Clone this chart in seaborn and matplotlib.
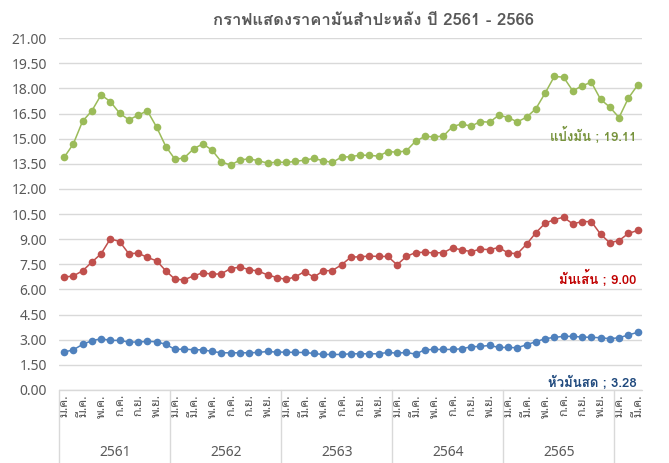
import matplotlib
matplotlib.use('Agg')
import matplotlib.pyplot as plt
import seaborn as sns
import pandas as pd

# ราคามันสำปะหลัง (บาท/กก.) รายเดือน ม.ค. 2561 - มี.ค. 2566
years = ['2561', '2562', '2563', '2564', '2565', '2566']
months = ['ม.ค.', 'ก.พ.', 'มี.ค.', 'เม.ย.', 'พ.ค.', 'มิ.ย.',
          'ก.ค.', 'ส.ค.', 'ก.ย.', 'ต.ค.', 'พ.ย.', 'ธ.ค.']

flour = [13.88, 14.69, 16.04, 16.66, 17.61, 17.21, 16.52, 16.12, 16.40, 16.66, 15.69, 14.53,
         13.76, 13.86, 14.39, 14.69, 14.31, 13.62, 13.42, 13.72, 13.80, 13.68, 13.54, 13.60,
         13.58, 13.64, 13.72, 13.82, 13.68, 13.58, 13.90, 13.92, 14.02, 14.00, 13.96, 14.23,
         14.19, 14.27, 14.85, 15.13, 15.11, 15.15, 15.72, 15.88, 15.74, 16.02, 15.98, 16.40,
         16.26, 16.00, 16.28, 16.78, 17.71, 18.71, 18.67, 17.85, 18.15, 18.37, 17.35, 16.88,
         16.26, 17.41, 18.19]
chips = [6.73, 6.81, 7.11, 7.63, 8.13, 9.02, 8.86, 8.13, 8.17, 7.91, 7.71, 7.11,
         6.60, 6.58, 6.81, 6.99, 6.91, 6.93, 7.25, 7.33, 7.19, 7.09, 6.87, 6.71,
         6.60, 6.75, 7.07, 6.73, 7.11, 7.13, 7.47, 7.93, 7.95, 7.99, 7.97, 7.97,
         7.47, 7.97, 8.20, 8.22, 8.18, 8.20, 8.48, 8.36, 8.26, 8.40, 8.38, 8.50,
         8.18, 8.13, 8.70, 9.38, 9.95, 10.17, 10.31, 9.91, 10.05, 10.05, 9.30, 8.78,
         8.92, 9.34, 9.52]
fresh = [2.26, 2.40, 2.72, 2.94, 3.06, 2.96, 2.96, 2.86, 2.86, 2.90, 2.88, 2.72,
         2.42, 2.44, 2.40, 2.40, 2.30, 2.22, 2.22, 2.22, 2.22, 2.24, 2.30, 2.26,
         2.26, 2.24, 2.24, 2.18, 2.12, 2.12, 2.12, 2.16, 2.16, 2.16, 2.16, 2.24,
         2.20, 2.24, 2.14, 2.40, 2.42, 2.42, 2.42, 2.46, 2.58, 2.60, 2.66, 2.54,
         2.54, 2.52, 2.70, 2.88, 3.06, 3.14, 3.20, 3.20, 3.16, 3.14, 3.12, 3.06,
         3.12, 3.28, 3.44]

series_names = ['แป้งมัน', 'มันเส้น', 'หัวมันสด']
line_colors = ['#9BBB59', '#C0504D', '#4F81BD']
label_colors = ['#77933C', '#C00000', '#1F497D']
label_texts = ['แป้งมัน ; 19.11', 'มันเส้น ; 9.00', 'หัวมันสด ; 3.28']

n = len(flour)
df = pd.DataFrame({
    'idx': list(range(n)) * 3,
    'price': flour + chips + fresh,
    'series': [s for s in series_names for _ in range(n)],
})

sns.set_style('white')
plt.rcParams['font.family'] = ['Noto Sans Thai Looped', 'DejaVu Sans']
bold_font = ['Loma', 'IBM Plex Sans Thai Looped', 'DejaVu Sans']
grey = '#595959'

fig = plt.figure(figsize=(6.69, 4.63), dpi=100)
ax = fig.add_axes([0.0889, 0.1577, 0.871, 0.760])

sns.lineplot(data=df, x='idx', y='price', hue='series', hue_order=series_names,
             palette=line_colors, marker='o', markersize=5.5, markeredgewidth=0,
             linewidth=1.1, legend=False, ax=ax, zorder=3)

ax.set_xlim(-0.5, n - 0.5)
ax.set_ylim(0, 21)
ax.set_yticks([i * 1.5 for i in range(15)])
ax.set_yticklabels([f'{i * 1.5:.2f}' for i in range(15)], color=grey, fontsize=10)
ax.grid(axis='y', color='#D9D9D9', linewidth=1)
ax.set_axisbelow(True)
for s in ax.spines.values():
    s.set_visible(False)
ax.tick_params(axis='y', length=0, pad=9)

# เดือน (แสดงเว้นเดือน)
ticks = list(range(0, n, 2))
ax.set_xticks(ticks)
ax.set_xticklabels([months[i % 12] for i in ticks], rotation=90, color=grey,
                   fontsize=9, va='top')
ax.tick_params(axis='x', length=0, pad=3)
ax.set_xlabel('')
ax.set_ylabel('')

# เส้นแบ่งปี + ชื่อปี
trans = ax.get_xaxis_transform()
ax.plot([-0.5, n - 0.5], [0, 0], color='#D9D9D9', lw=1, transform=trans, clip_on=False)
for k in range(len(years)):
    ax.plot([k * 12 - 0.5] * 2, [0, -0.215], color='#D9D9D9', lw=1,
            transform=trans, clip_on=False)
    if (k + 1) * 12 <= n:
        ax.text(k * 12 + 5.5, -0.177, years[k], transform=trans, ha='center',
                va='center', color=grey, fontsize=10)

# ป้ายข้อมูล
label_y = [15.2, 6.62, 0.42]
for txt, c, yv in zip(label_texts, label_colors, label_y):
    ax.text(n - 1.1, yv, txt, ha='right', va='center', color=c,
            fontsize=9.5, fontweight='bold', family=bold_font)

fig.text(0.559, 0.955, 'กราฟแสดงราคามันสำปะหลัง ปี 2561 - 2566', ha='center',
         va='center', color=grey, fontsize=12, fontweight='bold', family=bold_font)

fig.savefig('out.png', dpi=100, facecolor='white')
